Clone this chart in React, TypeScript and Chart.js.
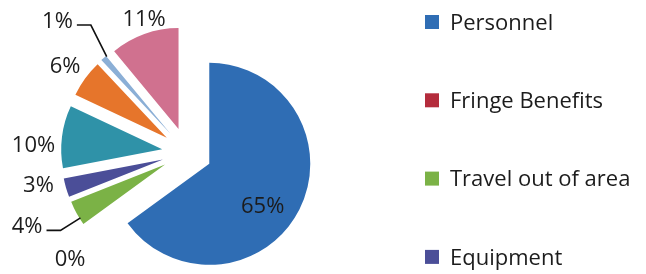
import React, { useEffect, useRef } from "react";
import { Chart, registerables, ArcElement, PieController } from "chart.js";

// ---- data ----
const categories = [
  "Personnel",
  "Fringe Benefits",
  "Travel out of area",
  "Equipment",
  "Supplies",
  "Contractual",
  "Other",
  "Indirect Costs",
];
const values = [65, 0, 4, 3, 10, 6, 1, 11];
const sliceColors = [
  "#2F6DB4",
  "#B42C3C",
  "#7BB246",
  "#4B4E98",
  "#2F92A8",
  "#E6752B",
  "#8BAFD6",
  "#D0718F",
];

// ---- style / layout ----
const EXPLODE = 25;
const RADIUS = 101;
const FONT = '"Open Sans", "Noto Sans", sans-serif';
const TEXT_COLOR = "#1c1c1c";
const LABEL_SIZE = 22;
const LABEL_GAP = 5;
const insideLabel = [true, false, false, false, false, false, false, false];
const leaderLine = [false, false, true, false, false, false, true, false];
const labelNudge: [number, number][] = [
  [-6, 11],
  [1.5, 24],
  [-31.6, 6],
  [-8, -7],
  [-2, 9],
  [-3.5, -6],
  [-32.7, -28.3],
  [8.8, -3.3],
];
const LEGEND_SIZE = 22;
const LEGEND_X = 425;
const LEGEND_TOP = 22;
const LEGEND_STEP = 78.3;
const LEGEND_BOX = 14;

class ExplodedArc extends ArcElement {
  static id = "explodedArc";
  draw(ctx: CanvasRenderingContext2D) {
    const self: any = this;
    const mid = (self.startAngle + self.endAngle) / 2;
    ctx.save();
    ctx.translate(Math.cos(mid) * EXPLODE, Math.sin(mid) * EXPLODE);
    super.draw(ctx);
    ctx.restore();
  }
}

class ExplodedPieController extends PieController {
  static id = "explodedPie";
  static defaults = { dataElementType: "explodedArc" };
}

Chart.register(...registerables, ExplodedArc, ExplodedPieController);

const pctLabels = {
  id: "pctLabels",
  afterDatasetsDraw(chart: any) {
    const ctx: CanvasRenderingContext2D = chart.ctx;
    const meta = chart.getDatasetMeta(0);
    const total = values.reduce((a, b) => a + b, 0);
    const capH = LABEL_SIZE * 0.714;
    ctx.save();
    ctx.font = `${LABEL_SIZE}px ${FONT}`;
    ctx.fillStyle = TEXT_COLOR;
    ctx.strokeStyle = "#111";
    ctx.lineWidth = 1.6;
    ctx.textAlign = "center";
    ctx.textBaseline = "alphabetic";
    meta.data.forEach((el: any, i: number) => {
      const { x, y, startAngle, endAngle, outerRadius } = el;
      const mid = (startAngle + endAngle) / 2;
      const ux = Math.cos(mid);
      const uy = Math.sin(mid);
      const ax = x + ux * EXPLODE;
      const ay = y + uy * EXPLODE;
      const text = `${Math.round((values[i] / total) * 100)}%`;
      const w = ctx.measureText(text).width;
      let cx: number;
      let cy: number;
      if (insideLabel[i]) {
        cx = ax + ux * outerRadius * 0.66;
        cy = ay + uy * outerRadius * 0.66;
      } else {
        const d = outerRadius + EXPLODE + LABEL_GAP;
        cx = x + ux * d + (ux * w) / 2;
        cy = y + uy * d + (uy * capH) / 2;
      }
      cx += labelNudge[i][0];
      cy += labelNudge[i][1];
      ctx.fillText(text, cx, cy + capH / 2);
      if (leaderLine[i]) {
        const sx = cx + w / 2 + 4;
        const ly = cy + 5;
        const ex = sx + 14;
        let a = Math.atan2(ly - ay, ex - ax);
        while (a < startAngle - Math.PI) a += 2 * Math.PI;
        while (a > startAngle + Math.PI) a -= 2 * Math.PI;
        a = Math.min(Math.max(a, startAngle), endAngle);
        ctx.beginPath();
        ctx.moveTo(sx, ly);
        ctx.lineTo(ex, ly);
        ctx.lineTo(ax + Math.cos(a) * (outerRadius - 1), ay + Math.sin(a) * (outerRadius - 1));
        ctx.stroke();
      }
    });
    ctx.restore();
  },
};

const sideLegend = {
  id: "sideLegend",
  afterDraw(chart: any) {
    const ctx: CanvasRenderingContext2D = chart.ctx;
    const capH = LEGEND_SIZE * 0.714;
    ctx.save();
    ctx.font = `${LEGEND_SIZE}px ${FONT}`;
    ctx.textAlign = "left";
    ctx.textBaseline = "alphabetic";
    categories.forEach((name, i) => {
      const cy = LEGEND_TOP + i * LEGEND_STEP;
      if (cy + capH / 2 > chart.height) return;
      ctx.fillStyle = sliceColors[i];
      ctx.fillRect(LEGEND_X, cy - LEGEND_BOX / 2, LEGEND_BOX, LEGEND_BOX);
      ctx.fillStyle = TEXT_COLOR;
      ctx.fillText(name, LEGEND_X + LEGEND_BOX + 11, cy + capH / 2);
    });
    ctx.restore();
  },
};

export default function App() {
  const ref = useRef<HTMLCanvasElement | null>(null);
  useEffect(() => {
    if (!ref.current) return;
    const chart = new Chart(ref.current, {
      type: "explodedPie" as any,
      data: {
        labels: categories,
        datasets: [
          {
            data: values,
            backgroundColor: sliceColors,
            borderWidth: 0,
            radius: RADIUS,
          } as any,
        ],
      },
      options: {
        responsive: false,
        animation: false,
        layout: { padding: { left: 0, right: 272, top: 36, bottom: 5 } },
        plugins: {
          legend: { display: false },
          tooltip: { enabled: false },
        },
      } as any,
      plugins: [pctLabels, sideLegend],
    });
    if ((document as any).fonts && (document as any).fonts.ready) {
      (document as any).fonts.ready.then(() => chart.draw());
    }
    return () => chart.destroy();
  }, []);
  return (
    <div
      style={{
        position: "fixed",
        left: 0,
        top: 0,
        width: 646,
        height: 274,
        background: "#ffffff",
      }}
    >
      <canvas ref={ref} width={646} height={274} style={{ display: "block" }} />
    </div>
  );
}
